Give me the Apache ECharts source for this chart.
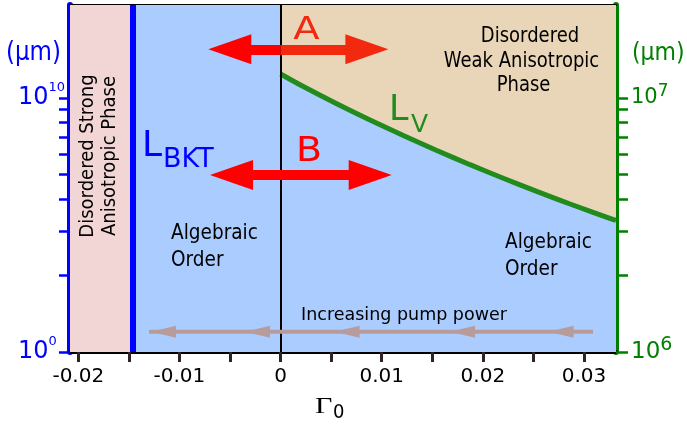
<!DOCTYPE html>
<html>
<head>
<meta charset="utf-8">
<script src="https://cdn.jsdelivr.net/npm/echarts@6/dist/echarts.min.js"></script>
<style>
html,body{margin:0;padding:0;background:#fff;}
#chart{width:687px;height:429px;}
</style>
</head>
<body>
<div id="chart"></div>
<script>
// ---- axis ranges / ticks ----
const xMin = -0.02082, xMax = 0.03316;
const yMin = 1e6, yMax = 2.323e7;
const xTickValues = [-0.02, -0.015, -0.01, -0.005, 0, 0.005, 0.01, 0.015, 0.02, 0.025, 0.03];
const xLabelValues = [-0.02, -0.01, 0, 0.01, 0.02, 0.03];
const yTickValues = [1e6, 2e6, 3e6, 4e6, 5e6, 6e6, 7e6, 8e6, 9e6, 1e7];
const yLabelValues = [1e6, 1e7];
const leftExponents = ['0', '10'];
const rightExponents = ['6', '7'];

// ---- phase boundaries ----
const lbktX = -0.01462;
const zeroX = 0;
const lvX = [0, 0.00225, 0.00555, 0.00884, 0.01213, 0.01544, 0.01873, 0.02202, 0.02532, 0.02862, 0.0329, 0.03316];
const lvY = [1.243e7, 1.109e7, 9.49e6, 8.19e6, 7.115e6, 6.215e6, 5.463e6, 4.83e6, 4.289e6, 3.825e6, 3.323e6, 3.296e6];

// ---- annotation arrows ----
const arrowAX = [-0.00502, 0, 0.00853];
const arrowAY = 1.555e7;
const arrowBX = [-0.00485, 0.00886];
const arrowBY = 4.977e6;
const pumpX = [0.03089, -0.01301];
const pumpY = 1.2021e6;
const pumpHeadX = [-0.01158, -0.00228, 0.00657, 0.01799, 0.02773];

const SANS = '"DejaVu Sans", sans-serif';
const BLUE = '#0000ff', GREEN = '#008000', LVGREEN = '#228b1e';
const PINK = '#f2d5d5', LIGHTBLUE = '#aaccff', TAN = '#e9d5b7';
const GRAY = '#b89b9b';

const chart = echarts.init(document.getElementById('chart'), null, {renderer: 'canvas'});

// styles: [low label, high label] each {main, mainLH, sup, supLH}
function yAxisCfg(pos, color, exps, tickLen, margin, st) {
  const rich = {};
  st.forEach(function (s, i) {
    rich['b' + i] = {fontSize: s.main, fontFamily: SANS, color: color, lineHeight: s.mainLH};
    rich['s' + i] = {fontSize: s.sup, fontFamily: SANS, color: color, lineHeight: s.supLH, verticalAlign: 'top'};
  });
  return {
    type: 'log', position: pos, min: yMin, max: yMax, logBase: 10,
    splitLine: {show: false}, minorTick: {show: false},
    axisLine: {show: true, onZero: false, lineStyle: {color: color, width: 6}},
    axisTick: {show: true, customValues: yTickValues, length: tickLen, lineStyle: {color: color, width: 2.5}},
    axisLabel: {
      show: true, customValues: yLabelValues, align: 'left', margin: margin,
      fontSize: st[1].main, fontFamily: SANS, color: color,
      formatter: function (v) { const i = v > 3e6 ? 1 : 0; return '{b' + i + '|10}{s' + i + '|' + exps[i] + '}'; },
      rich: rich
    }
  };
}

const option = {
  animation: false,
  backgroundColor: '#ffffff',
  grid: {left: 70, right: 71, top: 5, bottom: 77, containLabel: false},
  xAxis: [
    {
      type: 'value', position: 'bottom', min: xMin, max: xMax,
      splitLine: {show: false},
      axisLine: {show: true, onZero: false, lineStyle: {color: '#000', width: 4}},
      axisTick: {show: true, customValues: xTickValues, length: 10, lineStyle: {color: '#2e2424', width: 3}},
      axisLabel: {show: true, customValues: xLabelValues, margin: 15, fontSize: 20, fontFamily: SANS, color: '#000',
        formatter: function (v) { return String(Math.round(v * 1000) / 1000); }}
    },
    {
      type: 'value', position: 'top', min: xMin, max: xMax,
      splitLine: {show: false},
      axisLine: {show: true, onZero: false, lineStyle: {color: '#000', width: 2}},
      axisTick: {show: true, inside: true, customValues: xTickValues, length: 4, lineStyle: {color: '#2e2424', width: 3}},
      axisLabel: {show: false}
    }
  ],
  yAxis: [
    yAxisCfg('left', BLUE, leftExponents, 11, 52, [
      {main: 24, mainLH: 34, sup: 13, supLH: 14},
      {main: 24, mainLH: 34, sup: 13, supLH: 14}
    ]),
    yAxisCfg('right', GREEN, rightExponents, 12, 15, [
      {main: 23, mainLH: 32, sup: 19, supLH: 18},
      {main: 21, mainLH: 30, sup: 17, supLH: 18}
    ])
  ],
  series: [
    {
      name: 'regions', type: 'line', xAxisIndex: 0, yAxisIndex: 0, z: 1,
      data: [[xMin, yMin]], showSymbol: false, lineStyle: {opacity: 0}, silent: true,
      markArea: {
        silent: true,
        data: [
          [{xAxis: xMin, itemStyle: {color: PINK, opacity: 1}}, {xAxis: lbktX}],
          [{xAxis: lbktX, itemStyle: {color: LIGHTBLUE, opacity: 1}}, {xAxis: xMax}]
        ]
      }
    },
    {
      name: 'Lv', type: 'line', xAxisIndex: 0, yAxisIndex: 0, z: 3,
      data: lvX.map((x, i) => [x, lvY[i]]),
      smooth: 0.3, showSymbol: false, silent: true,
      lineStyle: {color: LVGREEN, width: 5},
      areaStyle: {color: TAN, opacity: 1, origin: 'end'}
    },
    {
      name: 'boundaries', type: 'line', xAxisIndex: 0, yAxisIndex: 0, z: 4,
      data: [], silent: true,
      markLine: {
        silent: true, symbol: 'none', label: {show: false}, precision: 6,
        data: [
          {xAxis: lbktX, lineStyle: {color: BLUE, width: 6, type: 'solid'}},
          {xAxis: zeroX, lineStyle: {color: '#000', width: 2, type: 'solid'}}
        ]
      }
    },
    {
      name: 'arrows', type: 'line', xAxisIndex: 0, yAxisIndex: 0, z: 5,
      data: [], silent: true,
      markLine: {
        silent: true, label: {show: false}, animation: false, precision: 6,
        data: [
          [{coord: [arrowAX[0], arrowAY], symbol: 'triangle', symbolSize: [30, 43], lineStyle: {color: '#ff0000', width: 10, type: 'solid'}, itemStyle: {color: '#ff0000'}},
           {coord: [arrowAX[1], arrowAY], symbol: 'none'}],
          [{coord: [arrowAX[1], arrowAY], symbol: 'none', lineStyle: {color: '#f2280f', width: 10, type: 'solid'}, itemStyle: {color: '#f2280f'}},
           {coord: [arrowAX[2], arrowAY], symbol: 'triangle', symbolSize: [30, 43]}],
          [{coord: [arrowBX[0], arrowBY], symbol: 'triangle', symbolSize: [30, 43], lineStyle: {color: '#ff0000', width: 10, type: 'solid'}, itemStyle: {color: '#ff0000'}},
           {coord: [arrowBX[1], arrowBY], symbol: 'triangle', symbolSize: [30, 43]}]
        ]
      }
    },
    {
      name: 'pump', type: 'line', xAxisIndex: 0, yAxisIndex: 0, z: 5, silent: true,
      data: pumpX.map(x => [x, pumpY]), showSymbol: false,
      lineStyle: {color: GRAY, width: 4}
    },
    {
      name: 'pumpHeads', type: 'scatter', xAxisIndex: 0, yAxisIndex: 0, z: 6, silent: true,
      data: pumpHeadX.map(x => [x, pumpY]),
      symbol: 'triangle', symbolRotate: 90, symbolSize: [12, 25],
      itemStyle: {color: GRAY, opacity: 1}
    }
  ],
  graphic: [
    {type: 'text', z: 100, x: 6, y: 53, scaleY: 1.15, style: {text: '(μm)', fontSize: 23, fontFamily: SANS, fill: BLUE, align: 'left', verticalAlign: 'middle'}},
    {type: 'text', z: 100, x: 632, y: 54, scaleY: 1.1, style: {text: '(μm)', fontSize: 22, fontFamily: SANS, fill: GREEN, align: 'left', verticalAlign: 'middle'}},
    {type: 'text', z: 100, x: 99, y: 156, rotation: Math.PI / 2, scaleY: 1.1, style: {text: 'Disordered Strong\nAnisotropic Phase', fontSize: 18, fontFamily: SANS, fill: '#000', align: 'center', verticalAlign: 'middle', lineHeight: 20}},
    {type: 'text', z: 100, x: 142, y: 147, style: {text: 'L', fontSize: 36, fontFamily: SANS, fill: BLUE, align: 'left', verticalAlign: 'middle'}},
    {type: 'text', z: 100, x: 163, y: 160, style: {text: 'BKT', fontSize: 27, fontFamily: SANS, fill: BLUE, align: 'left', verticalAlign: 'middle'}},
    {type: 'text', z: 100, x: 171, y: 247, scaleY: 1.15, style: {text: 'Algebraic\nOrder', fontSize: 18.5, fontFamily: SANS, fill: '#000', align: 'left', verticalAlign: 'middle', lineHeight: 23}},
    {type: 'text', z: 100, x: 505, y: 256, scaleY: 1.15, style: {text: 'Algebraic\nOrder', fontSize: 18.5, fontFamily: SANS, fill: '#000', align: 'left', verticalAlign: 'middle', lineHeight: 23}},
    {type: 'text', z: 100, x: 306.5, y: 31, scaleX: 1.2, style: {text: 'A', fontSize: 32, fontFamily: SANS, fill: '#f2280f', align: 'center', verticalAlign: 'middle'}},
    {type: 'text', z: 100, x: 309, y: 152, scaleX: 1.15, style: {text: 'B', fontSize: 33, fontFamily: SANS, fill: '#ff0000', align: 'center', verticalAlign: 'middle'}},
    {type: 'text', z: 100, x: 530, y: 37, scaleY: 1.15, style: {text: 'Disordered', fontSize: 18, fontFamily: SANS, fill: '#000', align: 'center', verticalAlign: 'middle'}},
    {type: 'text', z: 100, x: 521.5, y: 61.5, scaleY: 1.15, style: {text: 'Weak Anisotropic', fontSize: 18, fontFamily: SANS, fill: '#000', align: 'center', verticalAlign: 'middle'}},
    {type: 'text', z: 100, x: 523.5, y: 85.5, scaleY: 1.15, style: {text: 'Phase', fontSize: 18, fontFamily: SANS, fill: '#000', align: 'center', verticalAlign: 'middle'}},
    {type: 'text', z: 100, x: 389, y: 111, style: {text: 'L', fontSize: 35, fontFamily: SANS, fill: LVGREEN, align: 'left', verticalAlign: 'middle'}},
    {type: 'text', z: 100, x: 411, y: 125, style: {text: 'V', fontSize: 25, fontFamily: SANS, fill: LVGREEN, align: 'left', verticalAlign: 'middle'}},
    {type: 'text', z: 100, x: 404, y: 315.5, style: {text: 'Increasing pump power', fontSize: 17.5, fontFamily: SANS, fill: '#000', align: 'center', verticalAlign: 'middle'}},
    {type: 'text', z: 100, x: 315, y: 407, scaleX: 1.25, style: {text: 'Γ', fontSize: 24, fontFamily: '"Liberation Serif", serif', fill: '#000', align: 'left', verticalAlign: 'middle'}},
    {type: 'text', z: 100, x: 333, y: 413, scaleY: 1.1, style: {text: '0', fontSize: 18, fontFamily: SANS, fill: '#000', align: 'left', verticalAlign: 'middle'}}
  ]
};
chart.setOption(option);
</script>
</body>
</html>
